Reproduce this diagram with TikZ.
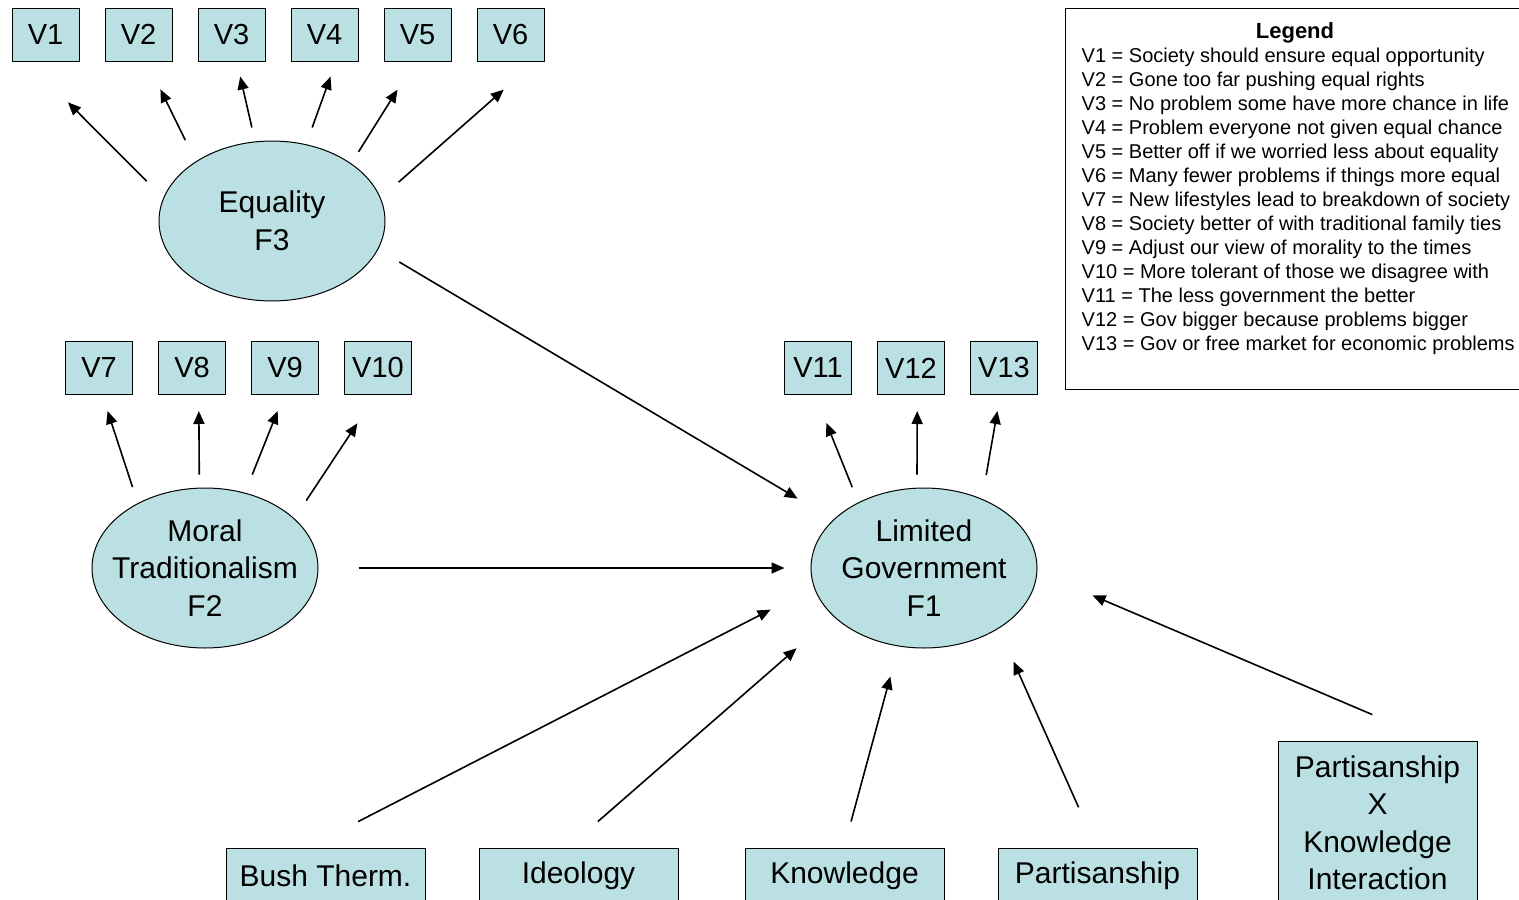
\documentclass[tikz,border=0pt]{standalone}
\usepackage{fontspec}
\setmainfont{Liberation Sans}
\usetikzlibrary{shapes.geometric, arrows.meta, positioning}
\definecolor{boxblue}{RGB}{187,224,227}
\tikzstyle{latent} = [ellipse, draw=black, line width=1pt, fill=boxblue, minimum width=226pt, minimum height=160pt, inner xsep=-30pt, inner ysep=0pt, align=center, font=\fontsize{30}{37.5}\selectfont]
\tikzstyle{item} = [rectangle, draw=black, line width=1pt, fill=boxblue, minimum width=67pt, minimum height=53pt, inner sep=0pt, font=\fontsize{29}{34}\selectfont]
\tikzstyle{cause} = [rectangle, draw=black, line width=1pt, fill=boxblue, minimum width=199pt, minimum height=56pt, inner sep=0pt, align=center, font=\fontsize{30}{37.5}\selectfont]
\tikzstyle{legendbox} = [rectangle, draw=black, line width=1pt, minimum width=460pt, minimum height=381pt]
\tikzstyle{legendtext} = [align=left, inner sep=0pt, font=\fontsize{20}{24}\selectfont]
\tikzstyle{arrow} = [line width=1.6pt, -{Triangle[length=13pt,width=11pt]}]

\begin{document}
\begin{tikzpicture}[x=1pt, y=-1pt, node distance=25pt]
\useasboundingbox (0,0) rectangle (1519,900);
% Row 1
\node (v1) [item] at (45.5,34.5) {V1};
\node (v2) [item, right=of v1] {V2};
\node (v3) [item, right=of v2] {V3};
\node (v4) [item, right=of v3] {V4};
\node (v5) [item, right=of v4] {V5};
\node (v6) [item, right=of v5] {V6};
\node (f3) [latent] at (272,221) {Equality\\F3};
% Row 2
\node (v7) [item] at (99,368) {V7};
\node (v8) [item, right=of v7] {V8};
\node (v9) [item, right=of v8] {V9};
\node (v10) [item, right=of v9] {V10};
\node (v11) [item] at (818,368) {V11};
\node (v12) [item, right=of v11] {V12};
\node (v13) [item, right=of v12] {V13};
% Row 3
\node (f2) [latent] at (205,568) {Moral\\Traditionalism\\F2};
\node (f1) [latent] at (924,568) {Limited\\Government\\F1};
% Row 4
\node (bush) [cause] at (325.5,876) {Bush Therm.};
\node (ideology) [cause] at (578.5,876) {Ideology};
\node (knowledge) [cause] at (844.5,876) {Knowledge};
\node (partisan) [cause] at (1097.5,876) {Partisanship};
\node (interact) [cause, minimum height=164pt] at (1377.5,823) {Partisanship\\X\\Knowledge\\Interaction};
% Legend
\node (legend) [legendbox] at (1295,198.5) {};
\node (legtitle) [legendtext, font=\fontsize{22}{24}\bfseries, below=15pt of legend.north] {Legend};
\node (legtext) [legendtext, below right=40.6pt and 17pt of legend.north west] {V1 = Society should ensure equal opportunity\\
V2 = Gone too far pushing equal rights\\
V3 = No problem some have more chance in life\\
V4 = Problem everyone not given equal chance\\
V5 = Better off if we worried less about equality\\
V6 = Many fewer problems if things more equal\\
V7 = New lifestyles lead to breakdown of society\\
V8 = Society better of with traditional family ties\\
V9 = Adjust our view of morality to the times\\
V10 = More tolerant of those we disagree with\\
V11 = The less government the better\\
V12 = Gov bigger because problems bigger\\
V13 = Gov or free market for economic problems};

% Arrows
\draw [arrow, shorten <=23.5pt, shorten >=57.6pt] (f3.168.4) -- (v1.-124.2);
\draw [arrow, shorten <=23.7pt, shorten >=31pt] (f3.142.6) -- (v2.-73.2);
\draw [arrow, shorten <=14.3pt, shorten >=15.4pt] (f3.102) -- (v3.-79.3);
\draw [arrow, shorten <=17.8pt, shorten >=16pt] (f3.66) -- (v4.-67.5);
\draw [arrow, shorten <=13.7pt, shorten >=33.2pt] (f3.36.2) -- (v5.-95.8);
\draw [arrow, shorten <=23.8pt, shorten >=42.5pt] (f3.12.2) -- (v6.-47.4);
\draw [arrow, shorten <=16.8pt, shorten >=16.8pt] (f2.136.7) -- (v7.-83.6);
\draw [arrow, shorten <=13pt, shorten >=16pt] (f2.94.3) -- (v8.-76);
\draw [arrow, shorten <=19.5pt, shorten >=17.2pt] (f2.62.1) -- (v9.-92.4);
\draw [arrow, shorten <=21.4pt, shorten >=33.9pt] (f2.29.7) -- (v10.-94.4);
\draw [arrow, shorten <=16.2pt, shorten >=30.1pt] (f1.135.5) -- (v11.-96.6);
\draw [arrow, shorten <=13pt, shorten >=16pt] (f1.95) -- (v12.-77);
\draw [arrow, shorten <=24.2pt, shorten >=16.3pt] (f1.50.8) -- (v13.-98.7);
\draw [arrow, shorten <=24.6pt, shorten >=41.3pt] (f3.-15) -- (f1.152.9);
\draw [arrow, shorten <=40pt, shorten >=26pt] (f2.east) -- (f1.west);
\draw [arrow, shorten <=56.7pt, shorten >=48.6pt] (bush.122.6) -- (f1.-170.3);
\draw [arrow, shorten <=39.5pt, shorten >=48.6pt] (ideology.110) -- (f1.-152);
\draw [arrow, shorten <=26.9pt, shorten >=31.1pt] (knowledge.91) -- (f1.-108.5);
\draw [arrow, shorten <=43.9pt, shorten >=36.2pt] (partisan.92.9) -- (f1.-39.8);
\draw [arrow, shorten <=66.2pt, shorten >=60pt] (interact.56.4) -- (f1.-2.2);
\end{tikzpicture}
\end{document}
